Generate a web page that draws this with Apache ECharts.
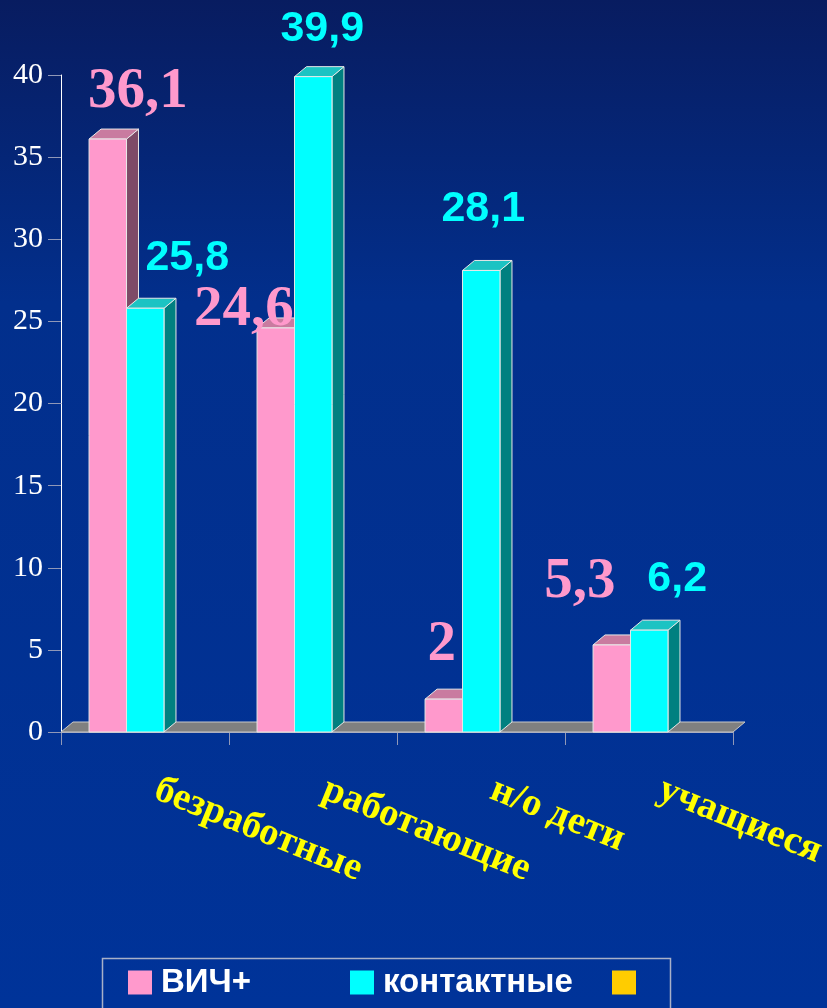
<!DOCTYPE html>
<html>
<head>
<meta charset="utf-8">
<script src="https://cdn.jsdelivr.net/npm/echarts@6/dist/echarts.min.js"></script>
<style>
  html, body { margin: 0; padding: 0; background: #003399; }
  #chart { width: 827px; height: 1008px; }
</style>
</head>
<body>
<div id="chart"></div>
<script>
// Groups on the category axis
const categories = ['безработные', 'работающие', 'н/о дети', 'учащиеся'];
// Percentages per group
const hivPositive = [36.1, 24.6, 2, 5.3];
const contacts = [25.8, 39.9, 28.1, 6.2];
const seriesNames = ['ВИЧ+', 'контактные', ' '];

// Value axis range
const yMin = 0, yMax = 40, yStep = 5;

// Where each value label sits, relative to the top-front centre of its bar
// ([dx, dy to the text baseline])
const hivLabelShift = [[30, -27], [-32, 2], [-2, -34], [-32, -43]];
const contactLabelShift = [[42, -35], [9, -33], [2, -47], [28, -36]];

// Depth of the pseudo-3D extrusion
const DX = 12, DY = -10;

const pinkStyle = {
  front: '#FF99CC', top: '#C97BA0', side: '#7E4A67', edge: '#E8E8E8',
  label: '#FF99CC', font: 'bold 57px "Liberation Serif", "Times New Roman", serif', size: 57
};
const cyanStyle = {
  front: '#00FFFF', top: '#1CC3C3', side: '#008080', edge: '#E8E8E8',
  label: '#00FFFF', font: 'bold 43px "Liberation Sans", Arial, sans-serif', size: 43
};

function fmt(v) { return String(v).replace('.', ','); }

function barRenderer(slot, st, shifts) {
  return function (params, api) {
    const idx = api.value(0);
    const val = api.value(1);
    const base = api.coord([idx, 0]);
    const top = api.coord([idx, val]);
    const band = api.size([1, 0])[0];
    const w = band * 0.223;
    const x0 = base[0] - band / 2 + band * 0.167 + slot * w;
    const x1 = x0 + w;
    const yb = base[1], yt = top[1];
    const s = shifts[params.dataIndex];
    return {
      type: 'group',
      children: [
        { type: 'polygon',
          shape: { points: [[x1, yt], [x1 + DX, yt + DY], [x1 + DX, yb + DY], [x1, yb]] },
          style: { fill: st.side, stroke: st.edge, lineWidth: 1 } },
        { type: 'polygon',
          shape: { points: [[x0, yt], [x0 + DX, yt + DY], [x1 + DX, yt + DY], [x1, yt]] },
          style: { fill: st.top, stroke: st.edge, lineWidth: 1 } },
        { type: 'rect',
          shape: { x: x0, y: yt, width: w, height: yb - yt },
          style: { fill: st.front, stroke: st.edge, lineWidth: 1 } },
        { type: 'text',
          x: (x0 + x1) / 2 + s[0],
          y: yt + s[1] - 0.34 * st.size,
          style: { text: fmt(val), fill: st.label, font: st.font, align: 'center', verticalAlign: 'middle' } }
      ]
    };
  };
}

function floorRenderer(params, api) {
  const cs = params.coordSys;
  const yb = api.coord([0, 0])[1];
  const xl = cs.x, xr = cs.x + cs.width;
  return {
    type: 'polygon',
    shape: { points: [[xl, yb], [xl + DX, yb + DY], [xr + DX, yb + DY], [xr, yb]] },
    style: { fill: '#808080', stroke: '#C8C8C8', lineWidth: 1 }
  };
}

const chart = echarts.init(document.getElementById('chart'), null, { renderer: 'canvas' });

const legendText = {
  color: '#FFFFFF', fontFamily: '"Liberation Sans", Arial, sans-serif',
  fontWeight: 'bold', fontSize: 33, padding: [0, 0, 0, 4]
};
function legendAt(name, left) {
  return {
    data: [name], left: left, top: 966, padding: 0, icon: 'rect',
    itemWidth: 24, itemHeight: 24, itemGap: 0, textStyle: legendText,
    selectedMode: false
  };
}

chart.setOption({
  backgroundColor: {
    type: 'linear', x: 0, y: 0, x2: 0, y2: 1,
    colorStops: [
      { offset: 0, color: '#081C60' },
      { offset: 0.3, color: '#022F8C' },
      { offset: 1, color: '#003399' }
    ]
  },
  animation: false,
  grid: { left: 61, top: 75, right: 94, bottom: 276, containLabel: false, outerBoundsMode: 'none' },
  xAxis: {
    type: 'category',
    data: categories,
    boundaryGap: true,
    axisLine: { show: true, lineStyle: { color: '#9098B8', width: 1 } },
    axisTick: { show: true, length: 13, lineStyle: { color: '#9098B8' } },
    axisLabel: {
      interval: 0, rotate: -22, margin: 52,
      padding: [0, 0, 0, 12],
      color: '#FFFF00',
      fontFamily: '"Liberation Serif", "Times New Roman", serif',
      fontStyle: 'normal', fontWeight: 'bold', fontSize: 39
    },
    splitLine: { show: false }
  },
  yAxis: {
    type: 'value',
    min: yMin, max: yMax, interval: yStep,
    axisLine: { show: true, lineStyle: { color: '#FFFFFF', width: 1 } },
    axisTick: { show: true, length: 13, lineStyle: { color: '#9098B8' } },
    axisLabel: {
      color: '#FFFFFF', margin: 18,
      fontFamily: '"Liberation Serif", "Times New Roman", serif', fontSize: 30
    },
    splitLine: { show: false }
  },
  legend: [
    legendAt(seriesNames[0], 128),
    legendAt(seriesNames[1], 350),
    legendAt(seriesNames[2], 612)
  ],
  graphic: [
    { type: 'rect', left: 100, top: 956, shape: { width: 568, height: 80 },
      style: { fill: 'none', stroke: '#A8B0C8', lineWidth: 1.5 }, silent: true }
  ],
  series: [
    { type: 'custom', name: 'floor', renderItem: floorRenderer, data: [[0, 0]], silent: true },
    { type: 'custom', name: seriesNames[0], itemStyle: { color: '#FF99CC' },
      renderItem: barRenderer(0, pinkStyle, hivLabelShift),
      encode: { x: 0, y: 1 },
      data: hivPositive.map((v, i) => [i, v]) },
    { type: 'custom', name: seriesNames[1], itemStyle: { color: '#00FFFF' },
      renderItem: barRenderer(1, cyanStyle, contactLabelShift),
      encode: { x: 0, y: 1 },
      data: contacts.map((v, i) => [i, v]) },
    { type: 'custom', name: seriesNames[2], itemStyle: { color: '#FFCC00' },
      renderItem: barRenderer(2, cyanStyle, contactLabelShift),
      data: [] }
  ]
});
</script>
</body>
</html>
